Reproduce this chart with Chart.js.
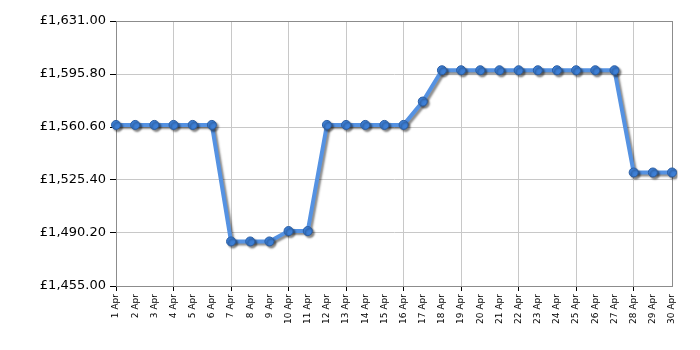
<!DOCTYPE html>
<html lang="en">
<head>
    <meta charset="UTF-8">
    <title>Price history</title>
    <script src="https://cdn.jsdelivr.net/npm/chart.js"></script>
    <style>
        html, body { margin: 0; padding: 0; background: #fff; }
        .chart-container { width: 700px; height: 350px; position: relative; }
    </style>
</head>
<body>
    <div class="chart-container">
        <canvas id="priceChart"></canvas>
    </div>

    <script>
        const days = [];
        for (let d = 1; d <= 30; d++) days.push(d + ' Apr');

        const prices = [
            1562.0, 1562.0, 1562.0, 1562.0, 1562.0, 1562.0,
            1484.6, 1484.6, 1484.6,
            1491.5, 1491.5,
            1562.0, 1562.0, 1562.0, 1562.0, 1562.0,
            1577.5,
            1598.3, 1598.3, 1598.3, 1598.3, 1598.3, 1598.3, 1598.3, 1598.3, 1598.3, 1598.3,
            1530.4, 1530.4, 1530.4
        ];

        const yTicks = [1455.00, 1490.20, 1525.40, 1560.60, 1595.80, 1631.00];

        const gridOn = '#c8c8c8';
        const axisGray = '#8c8c8c';

        // soft shadow under the line and the dots
        const shadowPlugin = {
            id: 'shadow',
            beforeDatasetDraw(chart) {
                const ctx = chart.ctx;
                ctx.save();
                ctx.shadowColor = 'rgba(0, 0, 0, 0.45)';
                ctx.shadowBlur = 2;
                ctx.shadowOffsetX = 2;
                ctx.shadowOffsetY = 2;
            },
            afterDatasetDraw(chart) {
                chart.ctx.restore();
            }
        };

        // frame round the plot area
        const framePlugin = {
            id: 'frame',
            beforeDatasetsDraw(chart) {
                const { ctx, chartArea: a } = chart;
                ctx.save();
                ctx.strokeStyle = axisGray;
                ctx.lineWidth = 1;
                ctx.strokeRect(Math.round(a.left) + 0.5, Math.round(a.top) + 0.5,
                    Math.round(a.right - a.left), Math.round(a.bottom - a.top));
                ctx.restore();
            }
        };

        new Chart(document.getElementById('priceChart').getContext('2d'), {
            type: 'line',
            data: {
                labels: days,
                datasets: [{
                    data: prices,
                    borderColor: '#5592e2',
                    borderWidth: 4,
                    pointRadius: 4.5,
                    pointHoverRadius: 4.5,
                    pointBackgroundColor: '#3d7fd6',
                    pointBorderColor: '#2b5ea3',
                    pointBorderWidth: 1,
                    tension: 0,
                    fill: false
                }]
            },
            options: {
                responsive: true,
                maintainAspectRatio: false,
                animation: false,
                layout: { padding: { top: 21, right: 28, left: 0, bottom: 0 } },
                plugins: {
                    legend: { display: false },
                    tooltip: { enabled: false }
                },
                scales: {
                    x: {
                        offset: false,
                        afterFit: s => { s.height = 64; },
                        grid: {
                            color: c => (c.index % 3 === 0 ? gridOn : 'transparent'),
                            tickColor: c => (c.index % 3 === 0 ? '#000' : 'transparent'),
                            tickLength: 5,
                            drawTicks: true
                        },
                        border: { color: axisGray },
                        ticks: {
                            autoSkip: false,
                            minRotation: 90,
                            maxRotation: 90,
                            padding: 3,
                            color: '#000',
                            font: { family: 'DejaVu Sans', size: 9 }
                        }
                    },
                    y: {
                        min: 1455,
                        max: 1631,
                        afterFit: s => { s.width = 116; },
                        afterBuildTicks: s => { s.ticks = yTicks.map(v => ({ value: v })); },
                        grid: {
                            color: gridOn,
                            tickColor: '#000',
                            tickLength: 6
                        },
                        border: { color: axisGray },
                        ticks: {
                            padding: 4,
                            color: '#000',
                            font: { family: 'DejaVu Sans', size: 13 },
                            callback: v => '£' + Number(v).toLocaleString('en-GB', {
                                minimumFractionDigits: 2, maximumFractionDigits: 2
                            })
                        }
                    }
                }
            },
            plugins: [framePlugin, shadowPlugin]
        });
    </script>
</body>
</html>
